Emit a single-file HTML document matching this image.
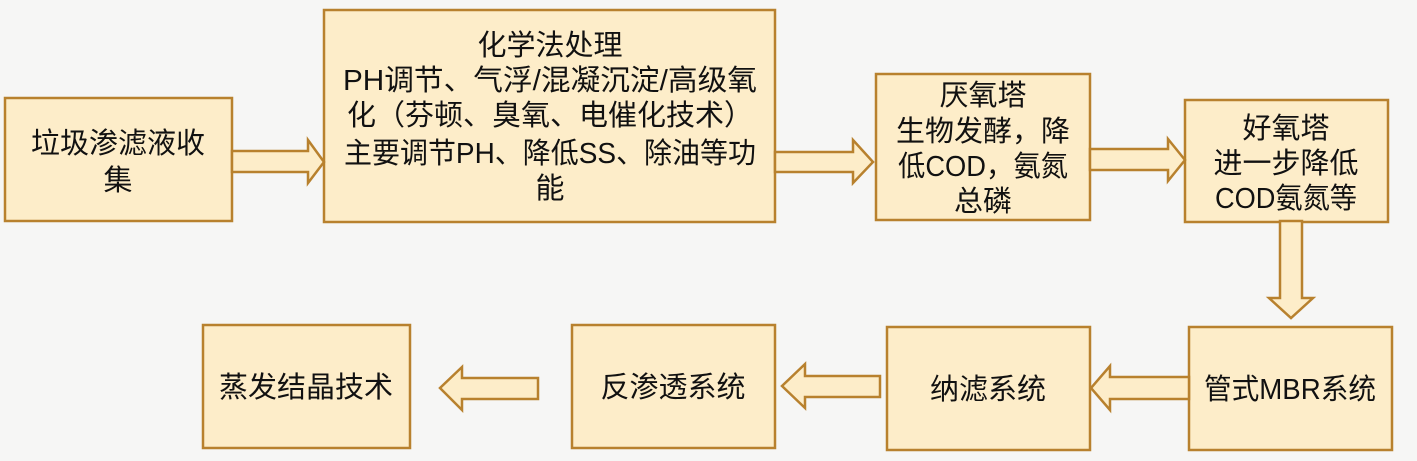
<!DOCTYPE html>
<html><head><meta charset="utf-8"><style>
html,body{margin:0;padding:0;background:#f6f6f5;}
svg{display:block;}
text{font-family:"Liberation Sans","Noto Sans CJK SC",sans-serif;font-size:29px;fill:#111;text-anchor:middle;}
</style></head><body>
<svg width="1417" height="461" viewBox="0 0 1417 461">
<rect width="1417" height="461" fill="#f6f6f5"/>
<g fill="#fdedc9" stroke="#b8812e" stroke-width="2.5" stroke-linejoin="miter">
<rect x="5" y="98" width="227" height="123"/>
<rect x="324" y="10" width="451" height="212"/>
<rect x="876" y="74" width="214" height="146"/>
<rect x="1185" y="100" width="203" height="122"/>
<rect x="1189" y="327" width="203" height="123"/>
<rect x="887" y="327" width="203" height="123"/>
<rect x="572" y="325" width="203" height="123"/>
<rect x="203" y="325" width="207" height="123"/>
<polygon points="232,151 308,151 308,140 324,162 308,183 308,172 232,172"/>
<polygon points="775,152 853,152 853,140 873,162 853,183 853,172 775,172"/>
<polygon points="1090,149 1168,149 1168,139 1185,160 1168,181 1168,170 1090,170"/>
<polygon points="1280,221 1302,221 1302,298 1313,298 1291,318 1269,298 1280,298"/>
<polygon points="1189,377 1110,377 1110,366 1091,388 1110,410 1110,399 1189,399"/>
<polygon points="880,376 805,376 805,364 782,386 805,408 805,397 880,397"/>
<polygon points="538,378 462,378 462,367 440,388 462,410 462,399 538,399"/>
</g>
<text x="118" y="153">垃圾渗滤液收</text>
<text x="118" y="190">集</text>
<text x="550" y="55">化学法处理</text>
<text x="550" y="90" textLength="414" lengthAdjust="spacingAndGlyphs">PH调节、气浮/混凝沉淀/高级氧</text>
<text x="550" y="125">化（芬顿、臭氧、电催化技术）</text>
<text x="550" y="163" textLength="412" lengthAdjust="spacingAndGlyphs">主要调节PH、降低SS、除油等功</text>
<text x="550" y="198">能</text>
<text x="983" y="105">厌氧塔</text>
<text x="983" y="141">生物发酵，降</text>
<text x="983" y="176" textLength="170" lengthAdjust="spacingAndGlyphs">低COD，氨氮</text>
<text x="983" y="211">总磷</text>
<text x="1286" y="138">好氧塔</text>
<text x="1286" y="173">进一步降低</text>
<text x="1286" y="208" textLength="142" lengthAdjust="spacingAndGlyphs">COD氨氮等</text>
<text x="1290" y="399" textLength="172" lengthAdjust="spacingAndGlyphs">管式MBR系统</text>
<text x="988" y="399">纳滤系统</text>
<text x="673" y="397">反渗透系统</text>
<text x="306" y="397">蒸发结晶技术</text>
</svg>
</body></html>
